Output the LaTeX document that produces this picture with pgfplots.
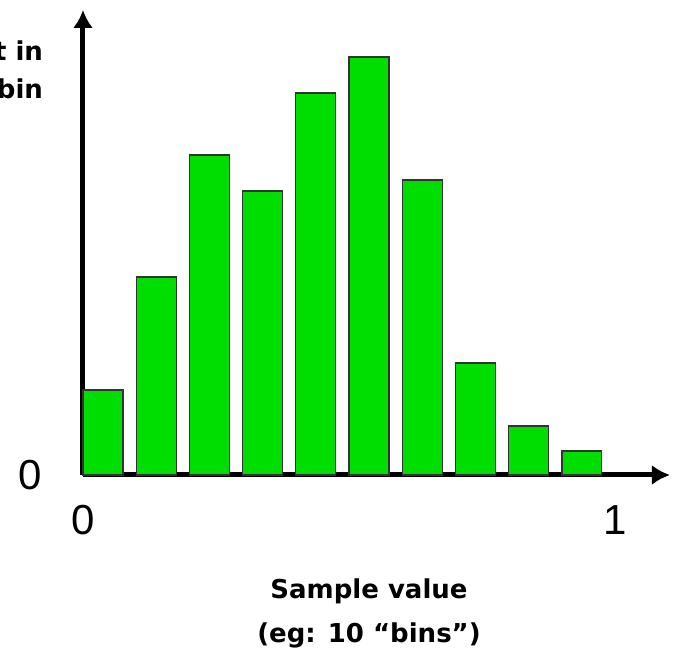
\documentclass[border=0pt]{standalone}
\usepackage{fontspec}
\setmainfont{Liberation Sans}
\newfontfamily\labelfont{DejaVu Sans}
\usepackage{pgfplots}
\pgfplotsset{compat=1.18}
\usetikzlibrary{arrows.meta}
\definecolor{bargreen}{RGB}{0,221,0}

\begin{document}
\begin{tikzpicture}
  % crop to the reference frame (1px = 0.5pt)
  \useasboundingbox (-41.5pt,-86.5pt) rectangle (297pt,237.5pt);
  \clip (-41.5pt,-86.5pt) rectangle (297pt,237.5pt);
  \begin{axis}[
      at={(0,0)}, anchor=south west,
      scale only axis,
      width=293.5pt,
      height=232.5pt,
      xmin=0, xmax=1.103,
      ymin=0, ymax=465,
      axis lines=left,
      axis line style={line width=2.5pt, -{Latex[length=9pt,width=10pt]}},
      xtick={0,1},
      ytick={0},
      major tick length=0pt,
      /pgf/number format/assume math mode=true,
      tick label style={font=\fontsize{21}{25}\selectfont},
      xticklabel style={anchor=center, yshift=-22.5pt},
      yticklabel style={anchor=center, xshift=-26.5pt},
      ybar,
      bar width=0.075,
      clip=false,
    ]
    % counts per bin (pixel heights)
    \addplot[fill=bargreen, draw=black!80, line width=0.6pt] coordinates {
      (0.0375,85) (0.1375,198) (0.2375,320) (0.3375,284) (0.4375,382)
      (0.5375,418) (0.6375,295) (0.7375,112) (0.8375,49) (0.9375,24)
    };
  \end{axis}
  \node[anchor=east, align=right, font=\labelfont\bfseries\fontsize{13}{19}\selectfont]
    at (-16.5pt,202.5pt) {Count in\\bin};
  \node[align=center, font=\labelfont\bfseries\fontsize{13}{22}\selectfont]
    at (143pt,-69pt) {Sample value\\(eg: 10 “bins”)};
\end{tikzpicture}
\end{document}
